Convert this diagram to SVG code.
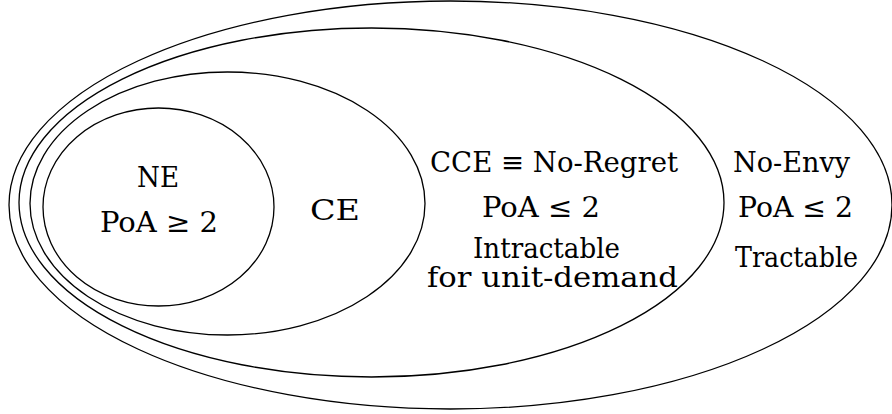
<svg xmlns="http://www.w3.org/2000/svg" width="892" height="414" viewBox="0 0 892 414">
<style>
.set{fill:none;stroke:#000;stroke-width:1.3}
.t{font-family:'DejaVu Serif','Liberation Serif',serif;font-size:28px;fill:#000;text-anchor:middle}
.s{font-size:27px}
</style>
<rect width="892" height="414" fill="#fff"/>
<g id="noenvy"><ellipse class="set" cx="450.5" cy="205" rx="441.5" ry="204"/>
<text class="t" x="791.5" y="172" textLength="117" lengthAdjust="spacingAndGlyphs">No-Envy</text>
<text class="t" x="795.5" y="217" textLength="115" lengthAdjust="spacingAndGlyphs">PoA ≤ 2</text>
<text class="t" x="796.5" y="267" textLength="123" lengthAdjust="spacingAndGlyphs">Tractable</text></g>
<g id="cce"><ellipse class="set" cx="371.5" cy="202.5" rx="352.5" ry="174.5"/>
<text class="t" x="554" y="172" textLength="248" lengthAdjust="spacingAndGlyphs">CCE ≡ No-Regret</text>
<text class="t" x="541" y="217" textLength="118" lengthAdjust="spacingAndGlyphs">PoA ≤ 2</text>
<text class="t s" x="546.5" y="258" textLength="147" lengthAdjust="spacingAndGlyphs">Intractable</text>
<text class="t s" x="552.5" y="287" textLength="251" lengthAdjust="spacingAndGlyphs">for unit-demand</text></g>
<g id="ce"><ellipse class="set" cx="227.5" cy="203.5" rx="197.5" ry="131.5"/>
<text class="t" x="335" y="220" textLength="50" lengthAdjust="spacingAndGlyphs">CE</text></g>
<g id="ne"><ellipse class="set" cx="158.5" cy="207" rx="115.5" ry="99"/>
<text class="t" x="158" y="187" textLength="42" lengthAdjust="spacingAndGlyphs">NE</text>
<text class="t" x="159" y="232" textLength="118" lengthAdjust="spacingAndGlyphs">PoA ≥ 2</text></g>
<g id="connectors"></g>
</svg>
